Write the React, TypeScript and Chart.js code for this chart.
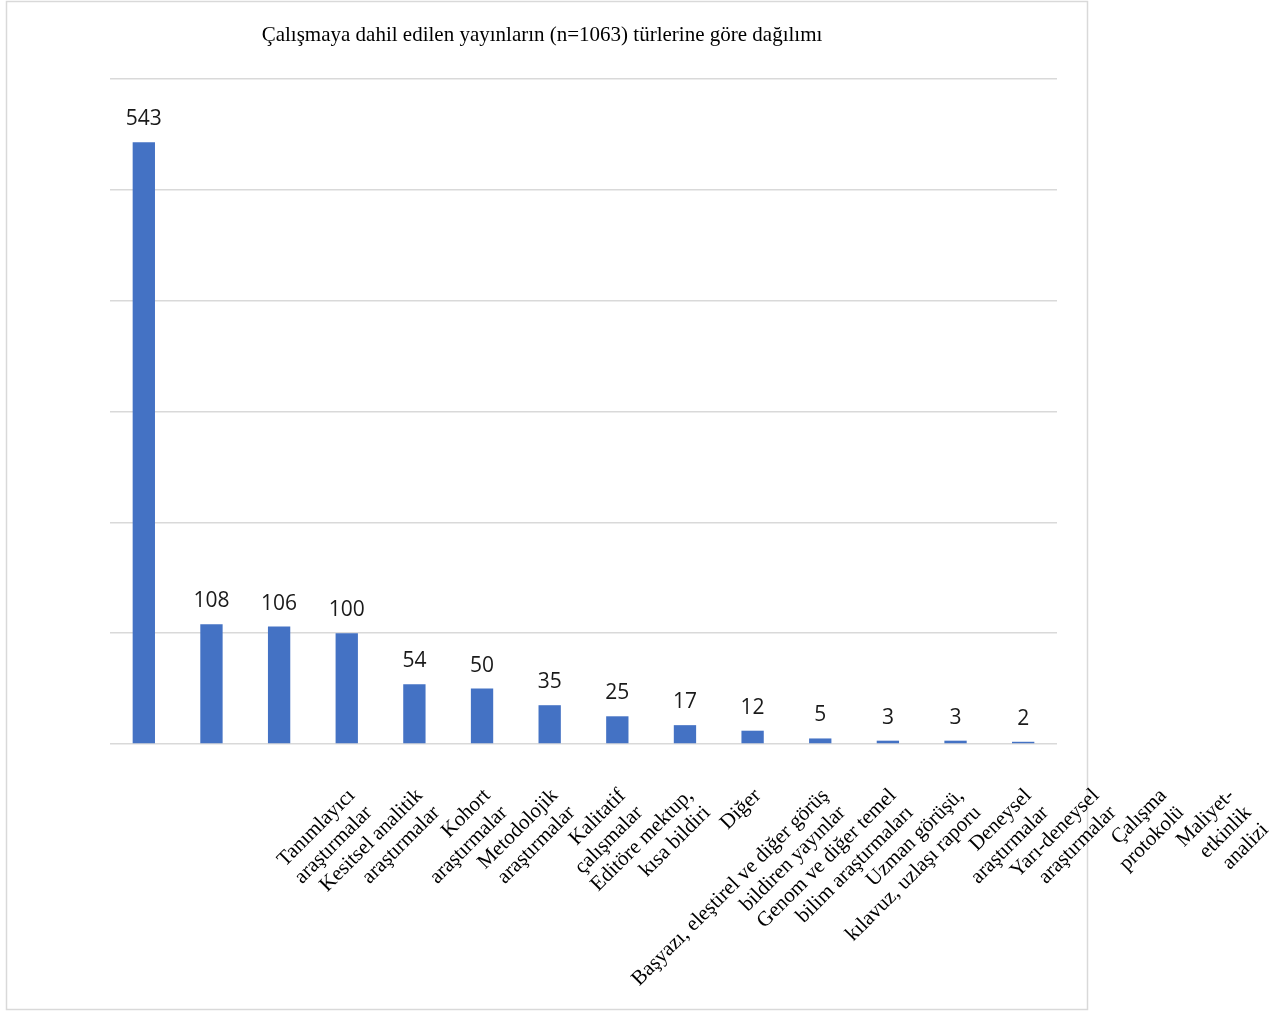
import React, { useEffect, useRef } from "react";
import { Chart, registerables } from "chart.js";

Chart.register(...registerables);

const titleText = "Çalışmaya dahil edilen yayınların (n=1063) türlerine göre dağılımı";

const categories: string[][] = [
  ["Tanımlayıcı", "araştırmalar"],
  ["Kesitsel analitik", "araştırmalar"],
  ["Kohort", "araştırmalar"],
  ["Metodolojik", "araştırmalar"],
  ["Kalitatif", "çalışmalar"],
  ["Editöre mektup,", "kısa bildiri"],
  ["Diğer"],
  ["Başyazı, eleştirel ve diğer görüş", "bildiren yayınlar"],
  ["Genom ve diğer temel", "bilim araştırmaları"],
  ["Uzman görüşü,", "kılavuz, uzlaşı raporu"],
  ["Deneysel", "araştırmalar"],
  ["Yarı-deneysel", "araştırmalar"],
  ["Çalışma", "protokolü"],
  ["Maliyet-", "etkinlik", "analizi"],
];

const counts: number[] = [543, 108, 106, 100, 54, 50, 35, 25, 17, 12, 5, 3, 3, 2];

const yMin = 0;
const yMax = 600;
const yStep = 100;

export default function App() {
  const ref = useRef<HTMLCanvasElement | null>(null);

  useEffect(() => {
    if (!ref.current) return;

    const framePlugin = {
      id: "frame",
      beforeDraw(chart: any) {
        const ctx = chart.ctx;
        ctx.save();
        ctx.fillStyle = "#ffffff";
        ctx.fillRect(0, 0, chart.width, chart.height);
        ctx.strokeStyle = "#d9d9d9";
        ctx.lineWidth = 1.5;
        ctx.strokeRect(6.5, 1.5, 1081, 1008);
        ctx.fillStyle = "#000000";
        ctx.font = '21px "Liberation Serif", serif';
        ctx.textAlign = "center";
        ctx.textBaseline = "middle";
        ctx.fillText(titleText, 542, 35);
        ctx.restore();
      },
    };

    const valueLabels = {
      id: "valueLabels",
      afterDatasetsDraw(chart: any) {
        const ctx = chart.ctx;
        const meta = chart.getDatasetMeta(0);
        ctx.save();
        ctx.fillStyle = "#1a1a1a";
        ctx.font = '21px "Open Sans", sans-serif';
        ctx.textAlign = "center";
        ctx.textBaseline = "alphabetic";
        meta.data.forEach((bar: any, i: number) => {
          ctx.fillText(String(counts[i]), bar.x, bar.y - 17);
        });
        ctx.restore();
      },
    };

    const chart = new Chart(ref.current, {
      type: "bar",
      data: {
        labels: categories,
        datasets: [
          {
            data: counts,
            backgroundColor: "#4472C4",
            categoryPercentage: 1,
            barPercentage: 0.33,
          },
        ],
      },
      options: {
        animation: false,
        responsive: false,
        devicePixelRatio: 1,
        layout: { padding: { left: 110, right: 212, top: 79, bottom: 0 } },
        plugins: {
          legend: { display: false },
          title: { display: false },
          tooltip: { enabled: false },
        },
        scales: {
          x: {
            grid: { display: false },
            border: { display: false },
            ticks: {
              autoSkip: false,
              minRotation: 45,
              maxRotation: 45,
              labelOffset: 208,
              padding: 32,
              color: "#000000",
              font: { family: '"Liberation Serif", serif', size: 21, lineHeight: 1.15 },
            },
            afterFit(scale: any) {
              scale.height = 270;
              scale.paddingLeft = 0;
              scale.paddingRight = 0;
            },
          },
          y: {
            min: yMin,
            max: yMax,
            ticks: { display: false, stepSize: yStep },
            border: { display: false },
            grid: { color: "#d9d9d9", lineWidth: 1.5, drawTicks: false },
            afterFit(scale: any) {
              scale.width = 0;
            },
          },
        },
      },
      plugins: [framePlugin, valueLabels],
    });

    return () => chart.destroy();
  }, []);

  return (
    <div style={{ position: "absolute", left: 0, top: 0, width: 1269, height: 1014 }}>
      <canvas ref={ref} width={1269} height={1014} />
    </div>
  );
}
